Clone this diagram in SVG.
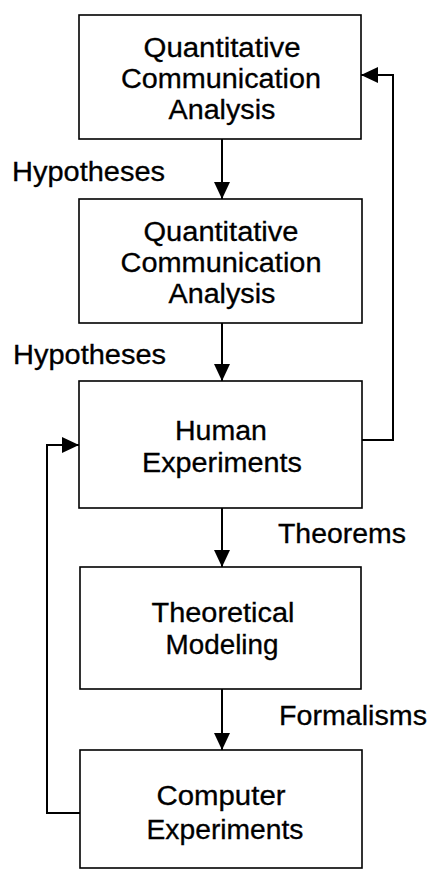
<svg xmlns="http://www.w3.org/2000/svg" width="431" height="870" viewBox="0 0 431 870">
<style>
.box{fill:#fff;stroke:#000;stroke-width:1.6}
.t{font-family:"Liberation Sans",Arial,sans-serif;font-size:27px;fill:#000;stroke:#000;stroke-width:0.3}
.c{text-anchor:middle}
.ln{fill:none;stroke:#000;stroke-width:2}
</style>
<defs>
<marker id="ah" markerUnits="userSpaceOnUse" markerWidth="18" markerHeight="16" refX="17" refY="8" orient="auto">
<path d="M0,0 L17,8 L0,16 z" fill="#000"/>
</marker>
</defs>
<rect width="431" height="870" fill="#fff"/>
<g id="connectors">
<line class="ln" x1="222" y1="139" x2="222" y2="199" marker-end="url(#ah)"/>
<line class="ln" x1="222" y1="323" x2="222" y2="381" marker-end="url(#ah)"/>
<line class="ln" x1="222" y1="508" x2="222" y2="567" marker-end="url(#ah)"/>
<line class="ln" x1="222" y1="689" x2="222" y2="750" marker-end="url(#ah)"/>
<polyline class="ln" points="362,440 393,440 393,75 361,75" marker-end="url(#ah)"/>
<polyline class="ln" points="80,813 47,813 47,445 79,445" marker-end="url(#ah)"/>
<text class="t" x="12" y="181" textLength="153" lengthAdjust="spacingAndGlyphs">Hypotheses</text>
<text class="t" x="13" y="364" textLength="153" lengthAdjust="spacingAndGlyphs">Hypotheses</text>
<text class="t" x="278" y="543" textLength="128" lengthAdjust="spacingAndGlyphs">Theorems</text>
<text class="t" x="279" y="725" textLength="148" lengthAdjust="spacingAndGlyphs">Formalisms</text>
</g>
<g id="n1">
<rect class="box" x="79" y="15" width="282" height="124"/>
<text class="t c" x="222" y="57" textLength="157" lengthAdjust="spacingAndGlyphs">Quantitative</text>
<text class="t c" x="221" y="88" textLength="200" lengthAdjust="spacingAndGlyphs">Communication</text>
<text class="t c" x="222" y="119" textLength="107" lengthAdjust="spacingAndGlyphs">Analysis</text>
</g>
<g id="n2">
<rect class="box" x="79" y="199" width="283" height="124"/>
<text class="t c" x="221" y="241" textLength="155" lengthAdjust="spacingAndGlyphs">Quantitative</text>
<text class="t c" x="221" y="272" textLength="201" lengthAdjust="spacingAndGlyphs">Communication</text>
<text class="t c" x="222" y="303" textLength="107" lengthAdjust="spacingAndGlyphs">Analysis</text>
</g>
<g id="n3">
<rect class="box" x="79" y="381" width="283" height="127"/>
<text class="t c" x="221" y="440" textLength="92" lengthAdjust="spacingAndGlyphs">Human</text>
<text class="t c" x="222" y="472" textLength="160" lengthAdjust="spacingAndGlyphs">Experiments</text>
</g>
<g id="n4">
<rect class="box" x="80" y="567" width="281" height="122"/>
<text class="t c" x="223" y="622" textLength="143" lengthAdjust="spacingAndGlyphs">Theoretical</text>
<text class="t c" x="222" y="654" textLength="113" lengthAdjust="spacingAndGlyphs">Modeling</text>
</g>
<g id="n5">
<rect class="box" x="80" y="750" width="282" height="118"/>
<text class="t c" x="221" y="805" textLength="129" lengthAdjust="spacingAndGlyphs">Computer</text>
<text class="t c" x="225" y="839" textLength="157" lengthAdjust="spacingAndGlyphs">Experiments</text>
</g>
</svg>
